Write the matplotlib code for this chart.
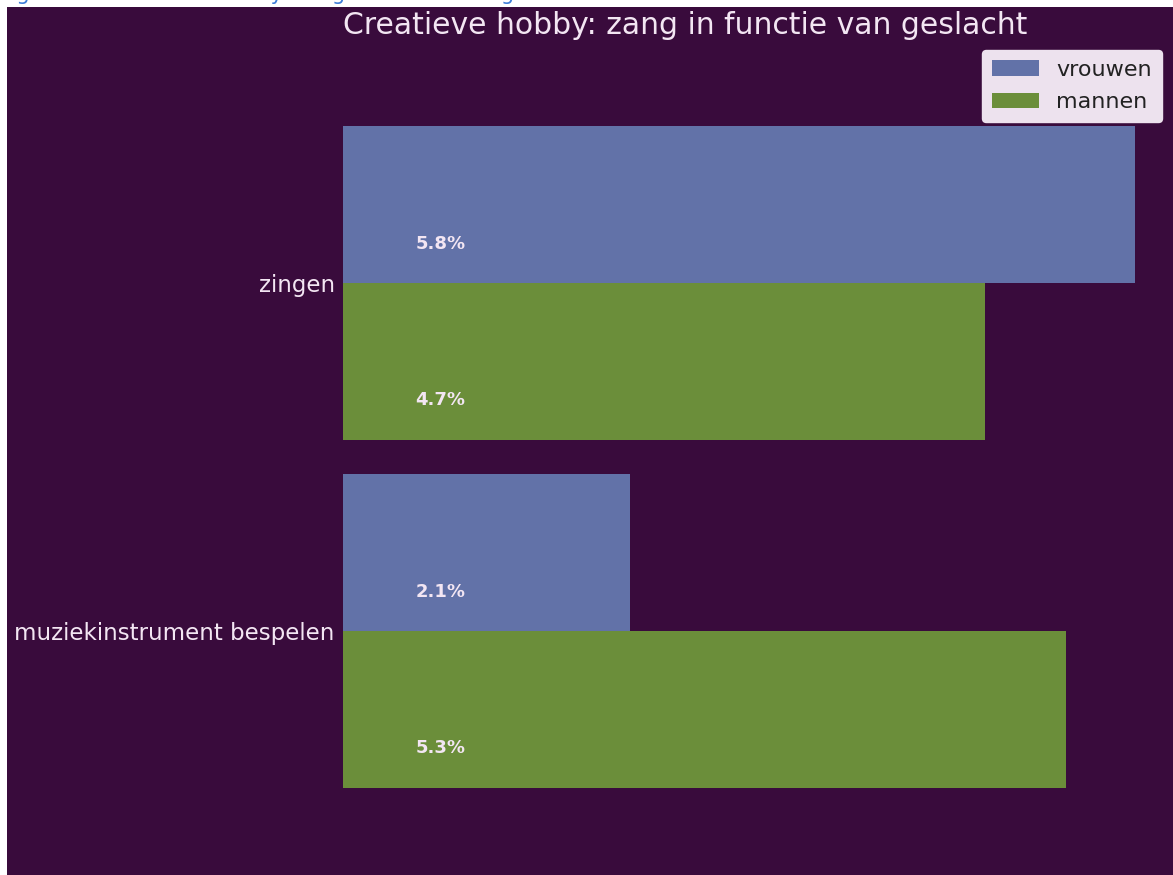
import numpy as np
import matplotlib
matplotlib.use("Agg")
import matplotlib.pyplot as plt
from matplotlib.patches import Rectangle

# data
categories = ["zingen", "muziekinstrument bespelen"]
vrouwen = [5.8, 2.1]
mannen = [4.7, 5.3]
series_names = ["vrouwen", "mannen"]
title = "Creatieve hobby: zang in functie van geslacht"

bg = "#390b3c"
blue = "#6272a8"
green = "#6b8e3a"
txt = "#f3e6f3"

fig = plt.figure(figsize=(11.73, 8.75), dpi=100, facecolor=bg)

# white page strips (top and left) from the source document
fig.patches.append(Rectangle((0, 1 - 7 / 875), 1, 7 / 875, transform=fig.transFigure,
                             facecolor="white", edgecolor="none", zorder=0))
fig.patches.append(Rectangle((0, 0), 7 / 1173, 1, transform=fig.transFigure,
                             facecolor="white", edgecolor="none", zorder=0))
# caption of the source document, mostly cut off at the top edge
fig.text(0.0, 1.0, "Figuur 12: Creatieve hobby: zang in functie van geslacht",
         color="#3d7dd8", fontsize=15, va="baseline", ha="left")

ax = fig.add_axes([343 / 1173, 0.0, 6.0 * 136.5 / 1173, 1 - 40 / 875])
ax.set_facecolor(bg)

y = np.arange(len(categories))
h = 0.45
ax.barh(y - h / 2, vrouwen, height=h, color=blue, label=series_names[0])
ax.barh(y + h / 2, mannen, height=h, color=green, label=series_names[1])

for i in range(len(categories)):
    ax.text(0.53, y[i] - h / 2 + 0.112, f"{vrouwen[i]}%", color=txt, fontsize=13,
            fontweight="bold", ha="left", va="center")
    ax.text(0.53, y[i] + h / 2 + 0.112, f"{mannen[i]}%", color=txt, fontsize=13,
            fontweight="bold", ha="left", va="center")

ax.set_xlim(0, 6.0)
ax.set_ylim(1.701, -0.698)
ax.set_yticks(y)
ax.set_yticklabels(categories, color=txt, fontsize=16.5)
ax.set_xticks([])
ax.tick_params(axis="y", length=0, pad=6)
for s in ax.spines.values():
    s.set_visible(False)

ax.set_title(title, loc="left", color=txt, fontsize=21.5, pad=1)

leg = ax.legend(loc="upper right", bbox_to_anchor=(1162 / 1173, 1 - 50 / 875),
                bbox_transform=fig.transFigure, borderaxespad=0,
                fontsize=16, facecolor="#ede2ee", framealpha=1, edgecolor="#ede2ee",
                handlelength=2.1, labelspacing=0.55, borderpad=0.45)
for t in leg.get_texts():
    t.set_color("#222222")

fig.savefig("out.png", dpi=100, facecolor=fig.get_facecolor())
